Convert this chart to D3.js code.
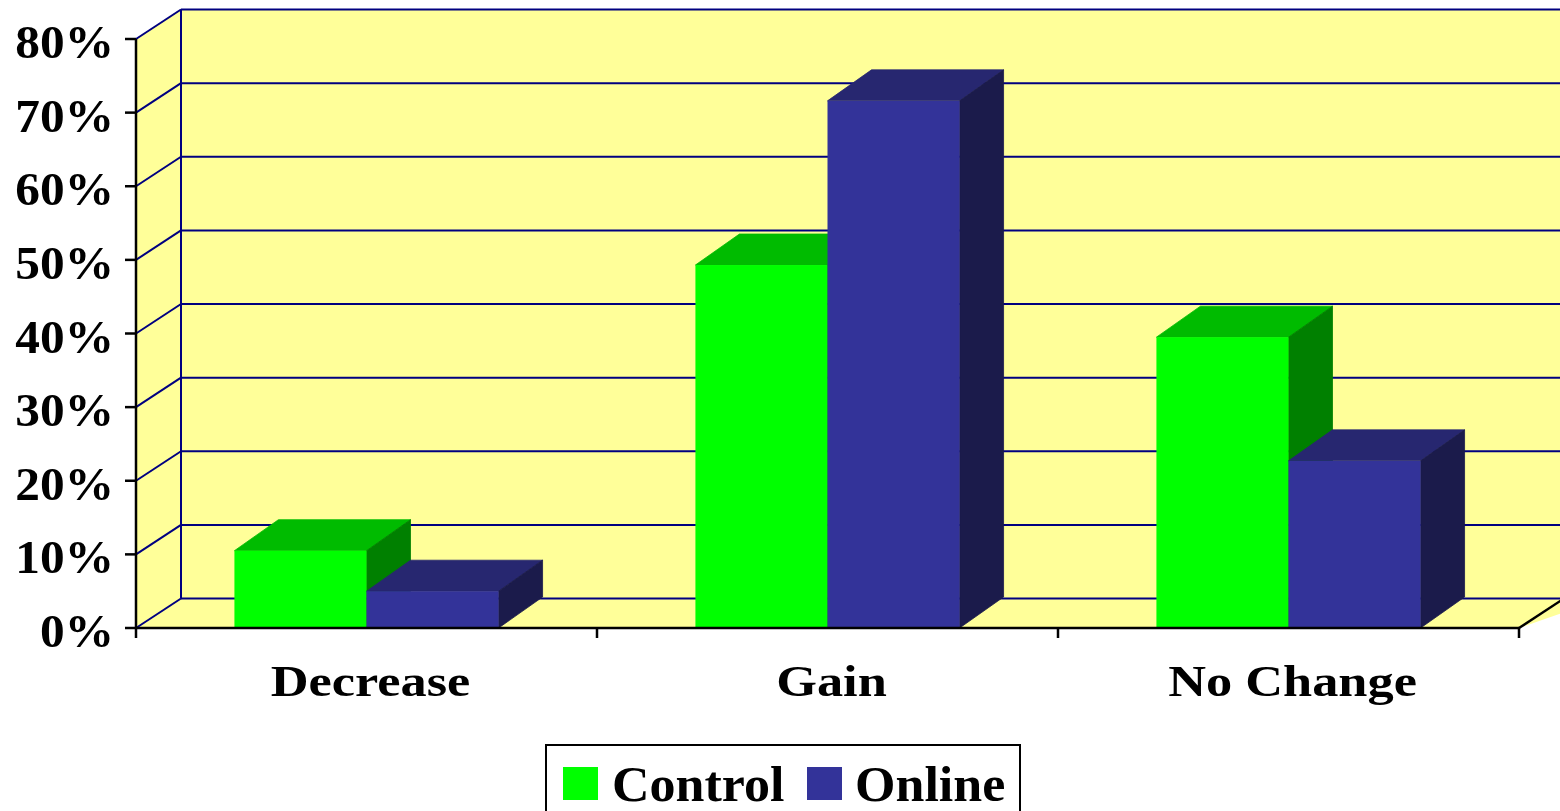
<!DOCTYPE html>
<html>
<head>
<meta charset="utf-8">
<script src="https://cdn.jsdelivr.net/npm/d3@7"></script>
<style>
  html, body { margin: 0; padding: 0; background: #ffffff; }
  svg { display: block; }
  text { font-family: "Liberation Serif", "Times New Roman", serif; font-weight: bold; fill: #000; }
</style>
</head>
<body>
<svg id="chart" width="1560" height="811"></svg>
<script>
// Weight change by group
const categories = ["Decrease", "Gain", "No Change"];
const seriesNames = ["Control", "Online"];
const controlValues = [10.5, 49.3, 39.5];
const onlineValues = [5.0, 71.6, 22.7];
const tickValues = [0, 10, 20, 30, 40, 50, 60, 70, 80];
const tickLabels = ["0%", "10%", "20%", "30%", "40%", "50%", "60%", "70%", "80%"];

const seriesValues = [controlValues, onlineValues];
const colors = {
  Control: { front: "#00ff00", top: "#00bb00", side: "#008000" },
  Online:  { front: "#333399", top: "#272770", side: "#1b1b4b" }
};

const svg = d3.select("#chart");

// Front plane of the plot and the depth offset of the back wall
const left = 136, right = 1519;
const depthX = 45, depthY = -29.5;
const barDX = 44, barDY = -31;

const y = d3.scaleLinear().domain([0, 80]).range([628, 39]);
const x = d3.scaleBand().domain(categories).range([left, right]).padding(0);
const gap = x.bandwidth() * 0.2135;
const xs = d3.scaleBand().domain(seriesNames).range([gap, x.bandwidth() - gap]).padding(0);

const wallFill = "#ffff99";
const navy = "#000080";
const farRight = 1600;

// Side wall
svg.append("polygon")
  .attr("points", [[left, y(80)], [left + depthX, y(80) + depthY], [left + depthX, y(0) + depthY], [left, y(0)]].join(" "))
  .attr("fill", wallFill);
// Back wall
svg.append("polygon")
  .attr("points", [[left + depthX, y(80) + depthY], [farRight, y(80) + depthY], [farRight, y(0) + depthY], [left + depthX, y(0) + depthY]].join(" "))
  .attr("fill", wallFill);
// Floor
svg.append("polygon")
  .attr("points", [[left, y(0)], [left + depthX, y(0) + depthY], [right + depthX + 40, y(0) + depthY], [right, y(0)]].join(" "))
  .attr("fill", wallFill);

// Gridlines on back and side walls
const grid = svg.append("g").attr("stroke", navy).attr("stroke-width", 2).attr("fill", "none");
tickValues.forEach(v => {
  grid.append("line")
    .attr("x1", left + depthX).attr("x2", farRight)
    .attr("y1", y(v) + depthY).attr("y2", y(v) + depthY);
  grid.append("line")
    .attr("x1", left).attr("y1", y(v))
    .attr("x2", left + depthX).attr("y2", y(v) + depthY);
});
grid.append("line")
  .attr("x1", left + depthX).attr("x2", left + depthX)
  .attr("y1", y(80) + depthY).attr("y2", y(0) + depthY);

// Bars
const bars = svg.append("g");
categories.forEach((cat, ci) => {
  seriesNames.forEach((s, si) => {
    const v = seriesValues[si][ci];
    const x0 = x(cat) + xs(s), x1 = x0 + xs.bandwidth();
    const yt = y(v), yb = y(0);
    const c = colors[s];
    const g = bars.append("g").attr("stroke-width", 0.8).attr("stroke-linejoin", "round");
    g.append("polygon")
      .attr("points", [[x0, yt], [x0 + barDX, yt + barDY], [x1 + barDX, yt + barDY], [x1, yt]].join(" "))
      .attr("fill", c.top).attr("stroke", c.top);
    g.append("polygon")
      .attr("points", [[x1, yt], [x1 + barDX, yt + barDY], [x1 + barDX, yb + barDY], [x1, yb]].join(" "))
      .attr("fill", c.side).attr("stroke", c.side);
    g.append("rect")
      .attr("x", x0).attr("y", yt).attr("width", x1 - x0).attr("height", yb - yt)
      .attr("fill", c.front);
  });
});

// Axes
const axisG = svg.append("g").attr("stroke", "#000").attr("stroke-width", 2.5).attr("fill", "none");
axisG.append("line").attr("x1", left).attr("x2", left).attr("y1", y(80)).attr("y2", y(0));
axisG.append("line").attr("x1", left).attr("x2", right).attr("y1", y(0)).attr("y2", y(0));
axisG.append("line").attr("x1", right).attr("y1", y(0)).attr("x2", right + depthX).attr("y2", y(0) + depthY);
tickValues.forEach(v => {
  axisG.append("line").attr("x1", left - 11).attr("x2", left).attr("y1", y(v)).attr("y2", y(v));
});
const boundaries = categories.map(c => x(c)).concat([right]);
boundaries.forEach(bx => {
  axisG.append("line").attr("x1", bx).attr("x2", bx).attr("y1", y(0)).attr("y2", y(0) + 10);
});

// Tick labels (wide bold face: glyphs stretched horizontally)
svg.append("g").selectAll("text").data(tickValues).join("text")
  .attr("transform", v => `translate(114,${y(v) + 19}) scale(1.05,1)`)
  .attr("text-anchor", "end")
  .attr("font-size", 47)
  .text((v, i) => tickLabels[i]);

// Category labels
svg.append("g").selectAll("text").data(categories).join("text")
  .attr("transform", c => `translate(${x(c) + x.bandwidth() / 2 + 4},696) scale(1.19,1)`)
  .attr("text-anchor", "middle")
  .attr("font-size", 44)
  .text(c => c);

// Legend
const legend = svg.append("g");
legend.append("rect")
  .attr("x", 546).attr("y", 745).attr("width", 474).attr("height", 80)
  .attr("fill", "#fff").attr("stroke", "#000").attr("stroke-width", 2);
const legendItems = [{ name: "Control", sx: 563, tx: 612 }, { name: "Online", sx: 807, tx: 855 }];
legendItems.forEach(it => {
  legend.append("rect")
    .attr("x", it.sx).attr("y", 767).attr("width", 35).attr("height", 33)
    .attr("fill", colors[it.name].front);
  legend.append("text")
    .attr("transform", `translate(${it.tx},801) scale(1.02,1)`)
    .attr("font-size", 51)
    .text(it.name);
});
</script>
</body>
</html>
